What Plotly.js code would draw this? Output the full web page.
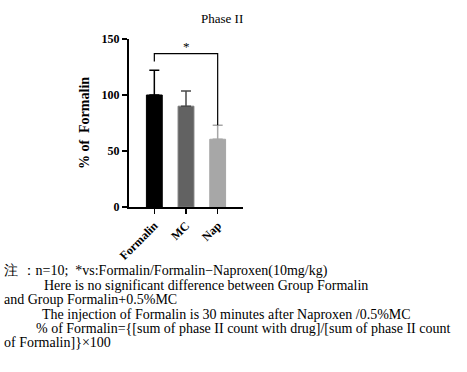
<!DOCTYPE html>
<html><head><meta charset="utf-8">
<script src="https://cdn.plot.ly/plotly-3.0.1.min.js"></script>
<style>body{margin:0;background:#fff}</style>
</head><body>
<div id="chart" style="width:467px;height:372px"></div>
<script>
const categories = ["Formalin", "MC", "Nap"];
const values = [100, 90, 60.5];
const errorsUp = [22, 13.5, 12.5];
const barColors = ["#000000", "#626262", "#a7a7a7"];
const errColors = ["#000000", "#4a4a4a", "#a7a7a7"];
const yTicks = [0, 50, 100, 150];
const noteLines = [
  "注 ：n=10;  *vs:Formalin/Formalin−Naproxen(10mg/kg)",
  "Here is no significant difference between Group Formalin",
  "and Group Formalin+0.5%MC",
  "The injection of Formalin is 30 minutes after Naproxen /0.5%MC",
  "% of Formalin={[sum of phase II count with drug]/[sum of phase II count",
  "of Formalin]}×100"
];
const noteIndent = [2, 42, 2, 40, 34, 2];
const sigY = 137, sigLeftBottom = 130, sigRightBottom = 73;

const L = 129, R = 243, T = 39, B = 207;
const px2x = p => (p - L) / (R - L);
const py2y = p => (B - p) / (B - T);
const serif = "Liberation Serif, Times New Roman, serif";

const traces = categories.map((c, i) => ({
  type: "bar", x: [c], y: [values[i]], width: 0.5,
  marker: {color: barColors[i], line: {color: i === 1 ? "#7a7a7a" : barColors[i], width: 1}},
  error_y: {type: "data", symmetric: false, array: [errorsUp[i]], arrayminus: [0],
            color: errColors[i], thickness: 1.5, width: 5},
  showlegend: false, hoverinfo: "skip"
}));

const annotations = [
  {text: "Phase II", xref: "paper", yref: "paper", x: px2x(222), y: py2y(19),
   xanchor: "center", yanchor: "middle",
   showarrow: false, font: {family: serif, size: 13, color: "#000"}},
  {text: "*", xref: "x", yref: "y", x: 1, y: sigY + 6, showarrow: false,
   font: {family: serif, size: 13, color: "#000"}}
];
const noteY = [271, 285, 299, 314, 328, 342];
noteLines.forEach((t, i) => annotations.push({
  text: t, xref: "paper", yref: "paper", x: px2x(noteIndent[i]), y: py2y(noteY[i]),
  xanchor: "left", yanchor: "middle", showarrow: false,
  font: {family: serif, size: 14, color: "#000"}
}));

const layout = {
  width: 467, height: 372,
  margin: {l: L, r: 467 - R, t: T, b: 372 - B, pad: 0},
  paper_bgcolor: "#fff", plot_bgcolor: "#fff",
  bargap: 0.5,
  xaxis: {type: "category", range: [-0.8, 2.8], showline: true, linecolor: "#000", linewidth: 2,
          ticks: "outside", ticklen: 5, tickwidth: 1.5, tickcolor: "#000", tickangle: -45,
          tickfont: {family: serif, size: 12, color: "#000", weight: "bold"}, showgrid: false, zeroline: false},
  yaxis: {range: [0, 150], tickvals: yTicks, showline: true, linecolor: "#000", linewidth: 2,
          ticks: "outside", ticklen: 5, tickwidth: 1.5, tickcolor: "#000",
          tickfont: {family: serif, size: 12, color: "#000", weight: "bold"}, showgrid: false, zeroline: false,
          title: {text: "% of  Formalin", font: {family: serif, size: 14, color: "#000", weight: "bold"}, standoff: 9}},
  shapes: [{type: "path", xref: "x", yref: "y",
            path: `M 0 ${sigLeftBottom} L 0 ${sigY} L 2 ${sigY} L 2 ${sigRightBottom}`,
            line: {color: "#000", width: 1.2}}],
  annotations: annotations
};
Plotly.newPlot("chart", traces, layout, {displayModeBar: false, staticPlot: true});
</script>
</body></html>
